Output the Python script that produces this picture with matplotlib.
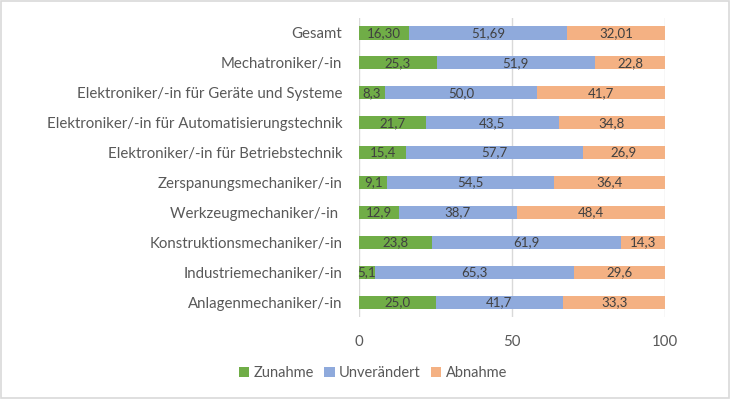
import matplotlib.pyplot as plt
from matplotlib.patches import Rectangle
import numpy as np

categories = [
    "Gesamt",
    "Mechatroniker/-in",
    "Elektroniker/-in für Geräte und Systeme",
    "Elektroniker/-in für Automatisierungstechnik",
    "Elektroniker/-in für Betriebstechnik",
    "Zerspanungsmechaniker/-in",
    "Werkzeugmechaniker/-in ",
    "Konstruktionsmechaniker/-in",
    "Industriemechaniker/-in",
    "Anlagenmechaniker/-in",
]
zunahme = [16.30, 25.3, 8.3, 21.7, 15.4, 9.1, 12.9, 23.8, 5.1, 25.0]
unveraendert = [51.69, 51.9, 50.0, 43.5, 57.7, 54.5, 38.7, 61.9, 65.3, 41.7]
abnahme = [32.01, 22.8, 41.7, 34.8, 26.9, 36.4, 48.4, 14.3, 29.6, 33.3]
decimals = [2, 1, 1, 1, 1, 1, 1, 1, 1, 1]

series = [
    ("Zunahme", zunahme, "#70AD47"),
    ("Unverändert", unveraendert, "#8FAADC"),
    ("Abnahme", abnahme, "#F4B183"),
]

plt.rcParams["font.family"] = ["Lato", "DejaVu Sans"]
text_color = "#595959"

fig = plt.figure(figsize=(7.3, 3.99), dpi=100)
ax = fig.add_axes([0.492, 0.205, 0.419, 0.75])

y = np.arange(len(categories))[::-1]
left = np.zeros(len(categories))
for name, vals, color in series:
    vals = np.array(vals)
    ax.barh(y, vals, left=left, height=0.44, color=color, label=name, zorder=2)
    for yi, l, v, d in zip(y, left, vals, decimals):
        txt = f"{v:.{d}f}".replace(".", ",")
        ax.text(l + v / 2, yi, txt, ha="center", va="center",
                fontsize=9.5, color="#404040", zorder=3)
    left += vals

ax.set_xlim(0, 100)
ax.set_ylim(-0.5, len(categories) - 0.5)
ax.set_xticks([0, 50, 100])
ax.set_yticks(y)
ax.set_yticklabels(categories)
ax.tick_params(axis="both", length=0, colors=text_color, labelsize=10.8)
ax.tick_params(axis="x", pad=13)
ax.tick_params(axis="y", pad=12)
ax.grid(axis="x", color="#D9D9D9", linewidth=1, zorder=0)
for s in ax.spines.values():
    s.set_visible(False)

leg = fig.legend(loc="center", bbox_to_anchor=(0.511, 0.065), ncol=3, frameon=False,
                 fontsize=10.5, handlelength=0.7, handleheight=0.7,
                 handletextpad=0.3, columnspacing=0.7)
for t in leg.get_texts():
    t.set_color(text_color)

fig.patches.append(Rectangle((0.002, 0.003), 0.996, 0.994, transform=fig.transFigure,
                             fill=False, edgecolor="#D9D9D9", linewidth=1.2))

fig.savefig("out.png", dpi=100)
